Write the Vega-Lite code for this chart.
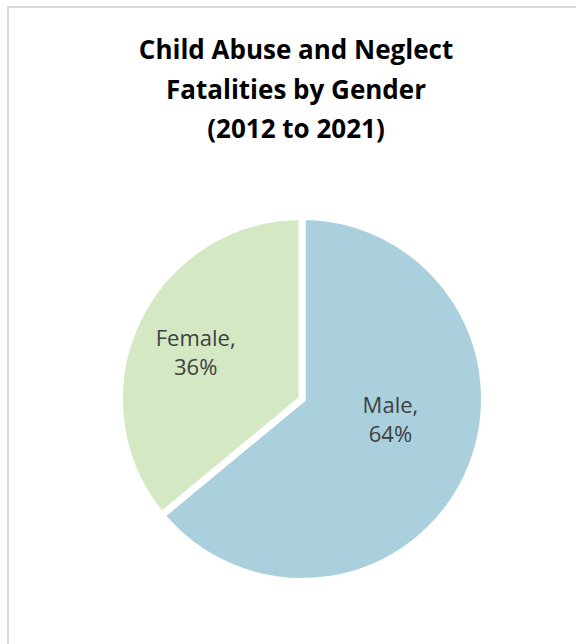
{
  "$schema": "https://vega.github.io/schema/vega-lite/v6.json",
  "autosize": "none",
  "width": 588,
  "height": 784,
  "padding": {"left": 8, "top": 7, "right": 0, "bottom": 0},
  "background": "white",
  "config": {"view": {"stroke": null}},
  "title": {
    "text": ["Child Abuse and Neglect", "Fatalities by Gender", "(2012 to 2021)"],
    "font": "Open Sans",
    "fontSize": 26,
    "fontWeight": "bold",
    "color": "#000000",
    "lineHeight": 39.5,
    "anchor": "middle",
    "frame": "group",
    "baseline": "alphabetic",
    "offset": -158,
    "dx": -6
  },
  "layer": [
    {
      "data": {"values": [{"frame": "border"}]},
      "mark": {"type": "rect", "fill": null, "stroke": "#D9D9D9", "strokeWidth": 2},
      "encoding": {}
    },
    {
      "data": {"values": [
        {"Gender": "Male", "pct": 64},
        {"Gender": "Female", "pct": 36}
      ]},
      "transform": [{"calculate": "datum.Gender + ',\\n' + datum.pct + '%'", "as": "label"}],
      "encoding": {
        "theta": {"field": "pct", "type": "quantitative", "stack": true},
        "order": {"field": "Gender", "sort": "descending"}
      },
      "layer": [
        {
          "mark": {"type": "arc", "outerRadius": 182.5, "stroke": "white", "strokeWidth": 7},
          "encoding": {
            "color": {"field": "Gender", "type": "nominal", "scale": {"domain": ["Male", "Female"], "range": ["#AACFDD", "#D4E8C3"]}, "legend": null}
          }
        },
        {
          "mark": {"type": "text", "radius": 117.5, "dy": -10, "font": "Open Sans", "fontSize": 22, "lineHeight": 29, "lineBreak": "\n", "color": "#404040", "align": "center", "baseline": "middle"},
          "encoding": {
            "text": {"condition": {"test": "datum.Gender === 'Female'", "field": "label"}, "value": ""}
          }
        },
        {
          "mark": {"type": "text", "radius": 90, "dx": 7, "dy": -31, "font": "Open Sans", "fontSize": 22, "lineHeight": 29, "lineBreak": "\n", "color": "#404040", "align": "center", "baseline": "middle"},
          "encoding": {
            "text": {"condition": {"test": "datum.Gender === 'Male'", "field": "label"}, "value": ""}
          }
        }
      ]
    }
  ]
}
